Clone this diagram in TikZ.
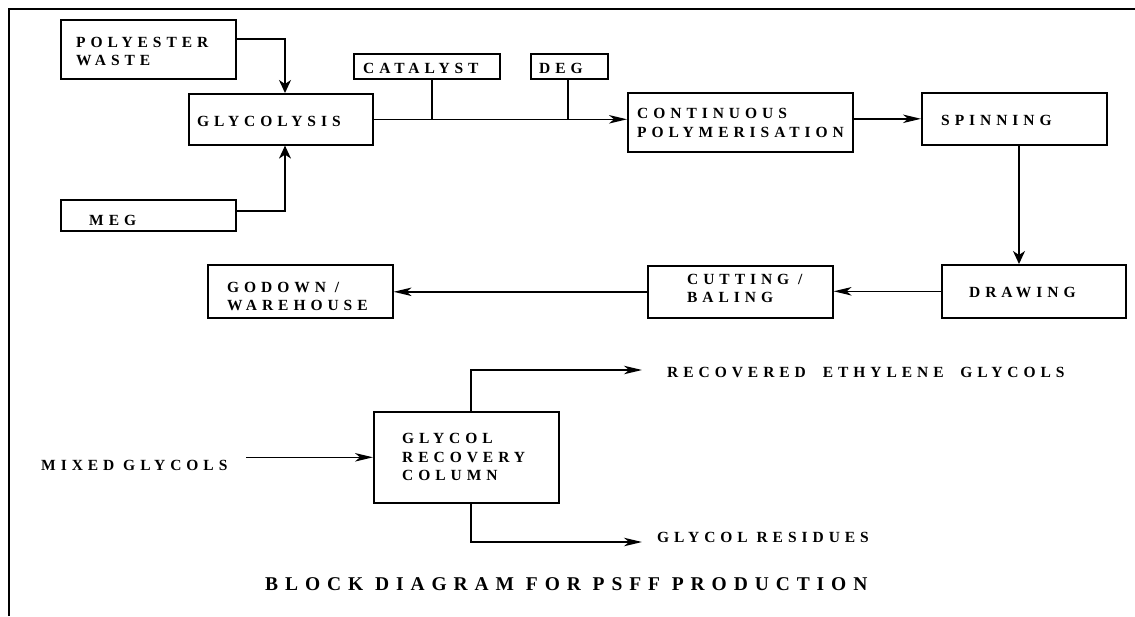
\documentclass[tikz,border=0pt]{standalone}
\usepackage{fontspec}
\setmainfont{Liberation Serif}
\newfontfamily\blockfont{Liberation Serif}[LetterSpace=32]
\newfontfamily\titlefont{Liberation Serif}[LetterSpace=35.5]
\usetikzlibrary{arrows.meta}
\begin{document}
\begin{tikzpicture}[x=1pt,y=-1pt,
  box/.style={draw, line width=1.6pt, inner sep=0pt, anchor=north west},
  txt/.style={inner sep=0pt, anchor=north west, align=left,
    font=\blockfont\bfseries\fontsize{15.5}{18.3}\selectfont},
  conn/.style={draw, line width=1.4pt},
  tipv/.style={-{Stealth[length=13pt,width=12pt,inset=4pt]}},
  tiph/.style={-{Stealth[length=18pt,width=8.5pt,inset=5pt]}}]
\useasboundingbox (0,0) rectangle (1135,616);

% page frame (top and left edges)
\draw[line width=2.6pt] (9,616) -- (9,9) -- (1135,9);

% process blocks
\node[box, minimum width=175pt, minimum height=59pt] (pw)   at (60,19)  {};
\node[box, minimum width=184pt, minimum height=51pt] (gly)  at (188,93) {};
\node[box, minimum width=175pt, minimum height=31pt] (meg)  at (60,199) {};
\node[box, minimum width=146pt, minimum height=25pt] (cat)  at (353,53) {};
\node[box, minimum width=77pt,  minimum height=25pt] (deg)  at (530,53) {};
\node[box, minimum width=225pt, minimum height=59pt] (cont) at (627,92) {};
\node[box, minimum width=185pt, minimum height=52pt] (spin) at (921,92) {};
\node[box, minimum width=184pt, minimum height=53pt] (drw)  at (941,264) {};
\node[box, minimum width=185pt, minimum height=52pt] (cut)  at (647,265) {};
\node[box, minimum width=185pt, minimum height=53pt] (god)  at (207,264) {};
\node[box, minimum width=185pt, minimum height=91pt] (grc)  at (373,411) {};

% block labels
\node[txt] (pw-t)   at (76,37)    {POLYESTER\\WASTE};
\node[txt] (gly-t)  at (197,116)  {GLYCOLYSIS};
\node[txt] (meg-t)  at (89,215)   {MEG};
\node[txt] (cat-t)  at (363,63.5) {CATALYST};
\node[txt] (deg-t)  at (539,63.5) {DEG};
\node[txt] (cont-t) at (637,108.5){CONTINUOUS\\POLYMERISATION};
\node[txt] (spin-t) at (941,115)  {SPINNING};
\node[txt] (drw-t)  at (969,287)  {DRAWING};
\node[txt] (cut-t)  at (687,274)  {CUTTING /\\BALING};
\node[txt] (god-t)  at (227,282)  {GODOWN /\\WAREHOUSE};
\node[txt] (grc-t)  at (402,433.5){GLYCOL\\RECOVERY\\COLUMN};

% stream labels
\node[txt] (mix)  at (41,460)    {MIXED GLYCOLS};
\node[txt] (reg)  at (667,367.5) {RECOVERED\hspace{8pt} ETHYLENE\hspace{8pt} GLYCOLS};
\node[txt] (res)  at (657,532.5) {GLYCOL RESIDUES};
\node[txt, font=\titlefont\bfseries\fontsize{19.5}{22}\selectfont] (title) at (265,577)
  {BLOCK DIAGRAM FOR PSFF PRODUCTION};

% feeds into glycolysis
\coordinate (k1) at (285,39);
\draw[conn,tipv] (pw.east |- k1) -- (k1) -- (k1 |- gly.north);
\coordinate (k2) at (285,211);
\draw[conn,tipv] (meg.east |- k2) -- (k2) -- (k2 |- gly.south);

% main line with catalyst and DEG additions
\draw[conn,tiph] (gly.east) -- (cont.west |- gly.east);
\coordinate (k3) at (432,0);
\draw[conn] (k3 |- cat.south) -- (k3 |- gly.east);
\coordinate (k4) at (568,0);
\draw[conn] (k4 |- deg.south) -- (k4 |- gly.east);

% fibre line
\draw[conn,tiph] (cont.east |- spin.west) -- (spin.west);
\coordinate (k5) at (1019,0);
\draw[conn,tipv] (k5 |- spin.south) -- (k5 |- drw.north);
\draw[conn,tiph] (drw.west) -- (cut.east |- drw.west);
\draw[conn,tiph] (cut.west) -- (god.east |- cut.west);

% glycol recovery
\coordinate (m0) at (246,0);
\draw[conn,tiph] (m0 |- grc.west) -- (grc.west);
\coordinate (r1) at (471,370);
\coordinate (r2) at (642,370);
\draw[conn,tiph] (r1 |- grc.north) -- (r1) -- (r2);
\coordinate (s1) at (471,542);
\coordinate (s2) at (642,542);
\draw[conn,tiph] (s1 |- grc.south) -- (s1) -- (s2);
\end{tikzpicture}
\end{document}
